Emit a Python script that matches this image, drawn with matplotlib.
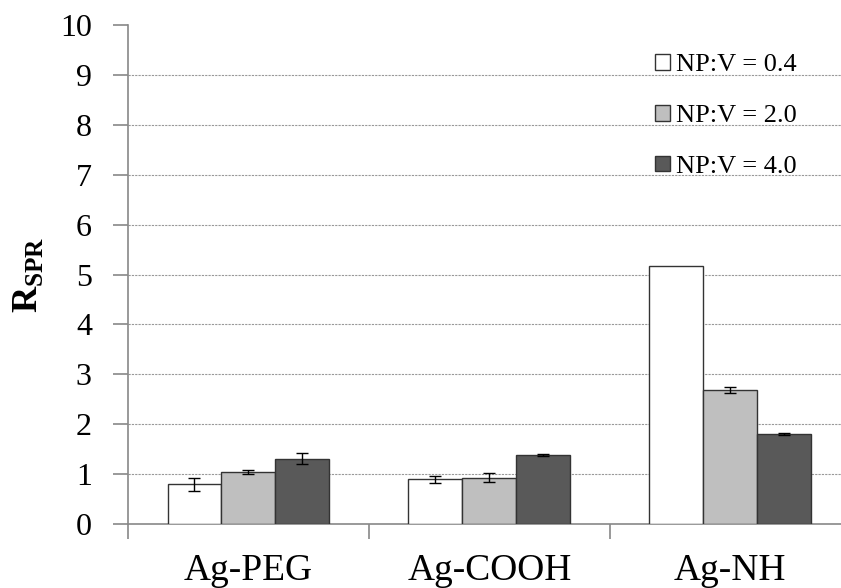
import matplotlib
matplotlib.use("Agg")
import matplotlib.pyplot as plt
import numpy as np

categories = ["Ag-PEG", "Ag-COOH", "Ag-NH"]
series_labels = ["NP:V = 0.4", "NP:V = 2.0", "NP:V = 4.0"]
values_04 = [0.80, 0.90, 5.17]
values_20 = [1.04, 0.93, 2.69]
values_40 = [1.31, 1.39, 1.80]
err_04 = [0.13, 0.07, 0.0]
err_20 = [0.04, 0.09, 0.06]
err_40 = [0.11, 0.02, 0.02]
yticks = list(range(0, 11))

plt.rcParams['font.family'] = ['Liberation Serif', 'DejaVu Serif']
plt.rcParams['mathtext.fontset'] = 'custom'
plt.rcParams['mathtext.rm'] = 'Liberation Serif'
plt.rcParams['mathtext.bf'] = 'Liberation Serif:bold'

fig = plt.figure(figsize=(8.41, 5.88), dpi=100)
ax = fig.add_axes([128/841, 64/588, (841-128)/841, (524-25)/588])

x = np.arange(len(categories))
w = 0.224
colors = ["#ffffff", "#bfbfbf", "#595959"]
series = [values_04, values_20, values_40]
errs = [err_04, err_20, err_40]
for i, (vals, e, c, lab) in enumerate(zip(series, errs, colors, series_labels)):
    ax.bar(x + (i - 1) * w, vals, w, color=c, edgecolor="#333333", linewidth=1.0,
           label=lab, zorder=3)
    ex = [xx for xx, ee in zip(x + (i - 1) * w, e) if ee > 0]
    ev = [vv for vv, ee in zip(vals, e) if ee > 0]
    ee = [ee for ee in e if ee > 0]
    ax.errorbar(ex, ev, yerr=ee, fmt='none', ecolor='black', elinewidth=1,
                capsize=4, capthick=1, zorder=4)

ax.set_ylim(0, 10)
ax.set_xlim(-0.5, 2.46)
ax.set_yticks(yticks)
ax.set_xticks(x)
ax.set_xticklabels(categories, fontsize=27)
ax.set_xticks([-0.5, 0.5, 1.5], minor=True)
ax.tick_params(axis='x', which='major', length=0, pad=21)
ax.tick_params(axis='x', which='minor', length=11, width=1.2, color='#888888', direction='out')
ax.tick_params(axis='y', labelsize=23, length=11, width=1.2, color='#888888', pad=15, direction='out')

for s in ['top', 'right']:
    ax.spines[s].set_visible(False)
for s in ['left', 'bottom']:
    ax.spines[s].set_color('#888888')
    ax.spines[s].set_linewidth(1.2)

for yv in range(1, 10):
    ax.axhline(yv, color='#999999', linestyle=(0, (2, 1)), linewidth=0.8, zorder=1)

ax.set_ylabel(r'$\mathbf{R}_{\mathbf{SPR}}$', fontsize=26)
ax.yaxis.set_label_coords(-0.116, 0.5)

leg = fig.legend(*ax.get_legend_handles_labels(), loc='upper left',
                 bbox_to_anchor=(655/841, 1 - 54/588), bbox_transform=fig.transFigure,
                 frameon=False, fontsize=19, handlelength=0.55, handleheight=0.55,
                 handletextpad=0.25, labelspacing=1.08, borderpad=0, borderaxespad=0)
for h in leg.legend_handles:
    h.set_edgecolor('#333333')

fig.savefig("out.png", dpi=100)
